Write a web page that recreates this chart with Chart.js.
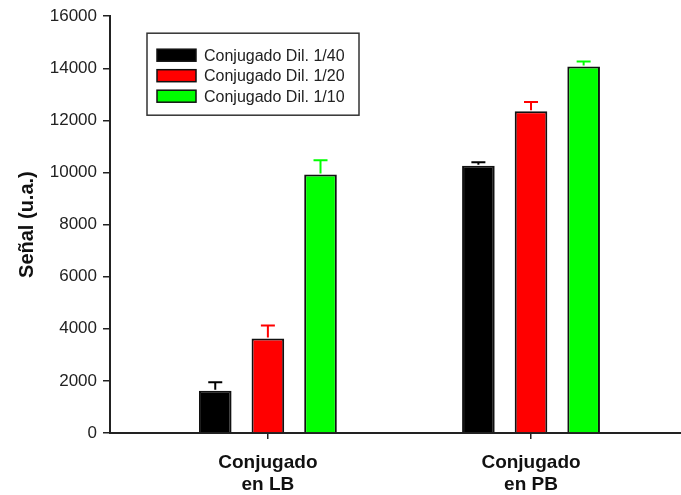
<!DOCTYPE html>
<html>
<head>
<meta charset="utf-8">
<script src="https://cdn.jsdelivr.net/npm/chart.js@4/dist/chart.umd.min.js"></script>
<style>
  html, body { margin: 0; padding: 0; background: #ffffff; }
  #wrap { width: 681px; height: 495px; }
</style>
</head>
<body>
<div id="wrap"><canvas id="c" width="681" height="495"></canvas></div>
<script>
// Groups along the x axis (two-line labels)
const categories = [['Conjugado', 'en LB'], ['Conjugado', 'en PB']];
// Series names
const seriesNames = ['Conjugado Dil. 1/40', 'Conjugado Dil. 1/20', 'Conjugado Dil. 1/10'];
// Mean signal per group
const dil40 = [1620, 10260];
const dil20 = [3630, 12350];
const dil10 = [9920, 14070];
// Upper error (standard deviation) per group
const err40 = [330, 130];
const err20 = [500, 355];
const err10 = [555, 195];
// Y axis ticks
const yTicks = [0, 2000, 4000, 6000, 8000, 10000, 12000, 14000, 16000];

const colors = ['#000000', '#ff0000', '#00ff00'];
const FONT = 'Arial, "Liberation Sans", sans-serif';

function toPoints(values) {
  return values.map((v, i) => ({ x: i + 1, y: v }));
}

const seriesValues = [dil40, dil20, dil10];
const seriesErrors = [err40, err20, err10];

const datasets = seriesNames.map((name, k) => ({
  label: name,
  data: toPoints(seriesValues[k]),
  errors: seriesErrors[k],
  backgroundColor: colors[k],
  borderColor: '#111111',
  borderWidth: 2,
  borderSkipped: 'start',
  categoryPercentage: 0.60,
  barPercentage: 0.62
}));

// Upper error bars with caps, drawn in the bar colour
const errorBars = {
  id: 'errorBars',
  afterDatasetsDraw(chart) {
    const ctx = chart.ctx;
    const yScale = chart.scales.y;
    chart.data.datasets.forEach((ds, k) => {
      const meta = chart.getDatasetMeta(k);
      meta.data.forEach((bar, i) => {
        const top = yScale.getPixelForValue(ds.data[i].y);
        const cap = yScale.getPixelForValue(ds.data[i].y + ds.errors[i]);
        ctx.save();
        ctx.strokeStyle = ds.backgroundColor;
        ctx.lineWidth = 2;
        ctx.beginPath();
        ctx.moveTo(bar.x, top - 1);
        ctx.lineTo(bar.x, cap);
        ctx.moveTo(bar.x - 7, cap);
        ctx.lineTo(bar.x + 7, cap);
        ctx.stroke();
        ctx.restore();
      });
    });
  }
};

// Boxed legend inside the plot area
const boxLegend = {
  id: 'boxLegend',
  afterDraw(chart) {
    const ctx = chart.ctx;
    const area = chart.chartArea;
    const left = area.left + 37, top = area.top + 17;
    const w = 212, h = 82;
    ctx.save();
    ctx.strokeStyle = '#333333';
    ctx.lineWidth = 1.5;
    ctx.strokeRect(left, top, w, h);
    ctx.font = '16px ' + FONT;
    ctx.textBaseline = 'middle';
    ctx.textAlign = 'left';
    chart.data.datasets.forEach((ds, k) => {
      const cy = top + 22 + k * 20.5;
      ctx.fillStyle = ds.backgroundColor;
      ctx.fillRect(left + 10, cy - 6, 39, 12);
      ctx.strokeStyle = '#111111';
      ctx.lineWidth = 1.5;
      ctx.strokeRect(left + 10, cy - 6, 39, 12);
      ctx.fillStyle = '#222222';
      ctx.fillText(ds.label, left + 57, cy + 1);
    });
    ctx.restore();
  }
};

new Chart(document.getElementById('c'), {
  type: 'bar',
  data: { datasets },
  options: {
    responsive: false,
    animation: false,
    devicePixelRatio: 1,
    layout: { padding: { top: 15, right: 0, bottom: 0, left: 0 } },
    plugins: {
      legend: { display: false },
      tooltip: { enabled: false }
    },
    scales: {
      x: {
        type: 'linear',
        min: 0.4,
        max: 2.57,
        offset: false,
        afterBuildTicks(scale) {
          scale.ticks = categories.map((c, i) => ({ value: i + 1 }));
        },
        afterFit(scale) { scale.height = 62; },
        ticks: {
          callback(value) { return categories[value - 1]; },
          font: { family: FONT, size: 19, weight: 'bold' },
          color: '#111111',
          padding: 12,
          maxRotation: 0,
          autoSkip: false
        },
        grid: {
          display: true,
          offset: false,
          drawOnChartArea: false,
          tickLength: 6,
          color: '#222222',
          lineWidth: 1.5
        },
        border: { display: true, color: '#222222', width: 2 }
      },
      y: {
        min: 0,
        max: 16000,
        afterBuildTicks(scale) {
          scale.ticks = yTicks.map(v => ({ value: v }));
        },
        afterFit(scale) { scale.width = 110; },
        ticks: {
          font: { family: FONT, size: 17 },
          color: '#222222',
          padding: 6,
          callback(value) { return String(value); }
        },
        grid: {
          display: true,
          drawOnChartArea: false,
          tickLength: 7,
          color: '#222222',
          lineWidth: 1.5
        },
        border: { display: true, color: '#222222', width: 2 },
        title: {
          display: true,
          text: 'Señal (u.a.)',
          font: { family: FONT, size: 20, weight: 'bold' },
          color: '#111111',
          padding: { top: 15, bottom: 0 }
        }
      }
    }
  },
  plugins: [errorBars, boxLegend]
});
</script>
</body>
</html>
